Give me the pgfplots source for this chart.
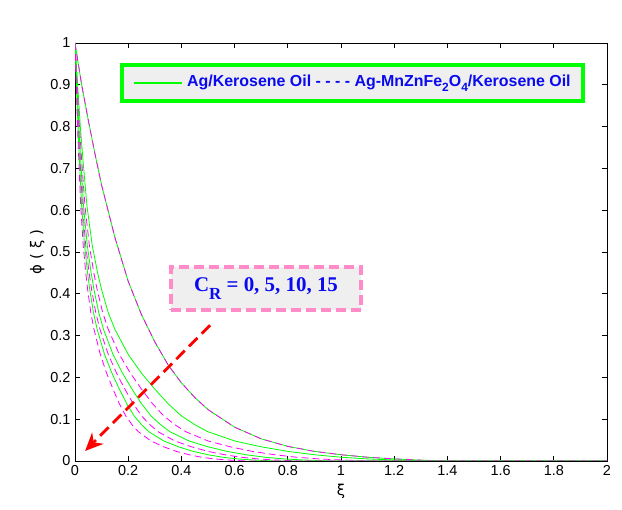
\documentclass[border=0pt]{standalone}
\usepackage{pgfplots}
\pgfplotsset{compat=1.18}
\usepackage{fontspec}
\setmainfont{Liberation Sans}
\newfontfamily\serifb{Liberation Serif}
\newfontfamily\dejavu{DejaVu Sans}
\usetikzlibrary{arrows.meta}
\definecolor{mgreen}{RGB}{0,255,0}
\definecolor{mmag}{RGB}{255,0,255}
\definecolor{pinkc}{RGB}{255,140,200}
\definecolor{boxfill}{RGB}{239,239,239}
\definecolor{txtblue}{RGB}{10,10,240}

\pgfplotstableread{
x y
0 1
0.025 0.9
0.05 0.815
0.075 0.735
0.1 0.66
0.15 0.535
0.2 0.43
0.25 0.35
0.3 0.285
0.35 0.23
0.4 0.187
0.45 0.152
0.5 0.123
0.6 0.081
0.7 0.053
0.8 0.035
0.9 0.023
1.0 0.015
1.1 0.009
1.2 0.005
1.3 0.002
1.4 0
2 0
}\cra

\pgfplotstableread{
x y
0 1
0.01 0.9
0.02 0.8
0.03 0.72
0.045 0.61
0.065 0.515
0.085 0.45
0.1 0.41
0.125 0.355
0.15 0.315
0.2 0.255
0.25 0.21
0.3 0.172
0.35 0.137
0.4 0.108
0.45 0.087
0.5 0.07
0.6 0.048
0.7 0.034
0.8 0.023
0.9 0.015
1.0 0.009
1.1 0.005
1.2 0.0025
1.35 0
2 0
}\grfive

\pgfplotstableread{
x y
0 1
0.0083 0.9
0.0167 0.8
0.025 0.72
0.0375 0.61
0.0542 0.515
0.0708 0.45
0.0833 0.41
0.1042 0.355
0.125 0.315
0.1667 0.255
0.2083 0.21
0.25 0.172
0.2917 0.137
0.3333 0.108
0.375 0.087
0.4167 0.07
0.5 0.048
0.5833 0.034
0.6667 0.023
0.75 0.015
0.8333 0.009
0.9167 0.005
1.0 0.0025
1.125 0
2 0
}\dafive

\pgfplotstableread{
x y
0 1
0.0071 0.9
0.0143 0.8
0.0214 0.72
0.0321 0.61
0.0464 0.515
0.0607 0.45
0.0714 0.41
0.0893 0.355
0.1071 0.315
0.1429 0.255
0.1786 0.21
0.2143 0.172
0.25 0.137
0.2857 0.108
0.3214 0.087
0.3571 0.07
0.4286 0.048
0.5 0.034
0.5714 0.023
0.6429 0.015
0.7143 0.009
0.7857 0.005
0.8571 0.0025
0.9643 0
2 0
}\grten

\pgfplotstableread{
x y
0 1
0.0063 0.9
0.0125 0.8
0.0188 0.72
0.0281 0.61
0.0406 0.515
0.0531 0.45
0.0625 0.41
0.0781 0.355
0.0938 0.315
0.125 0.255
0.1563 0.21
0.1875 0.172
0.2188 0.137
0.25 0.108
0.2813 0.087
0.3125 0.07
0.375 0.048
0.4375 0.034
0.5 0.023
0.5625 0.015
0.625 0.009
0.6875 0.005
0.75 0.0025
0.8438 0
2 0
}\daten

\pgfplotstableread{
x y
0 1
0.0056 0.9
0.0111 0.8
0.0167 0.72
0.025 0.61
0.0361 0.515
0.0472 0.45
0.0556 0.41
0.0694 0.355
0.0833 0.315
0.1111 0.255
0.1389 0.21
0.1667 0.172
0.1944 0.137
0.2222 0.108
0.25 0.087
0.2778 0.07
0.3333 0.048
0.3889 0.034
0.4444 0.023
0.5 0.015
0.5556 0.009
0.6111 0.005
0.6667 0.0025
0.75 0
2 0
}\grfifteen

\pgfplotstableread{
x y
0 1
0.0048 0.9
0.0095 0.8
0.0143 0.72
0.0214 0.61
0.031 0.515
0.0405 0.45
0.0476 0.41
0.0595 0.355
0.0714 0.315
0.0952 0.255
0.119 0.21
0.1429 0.172
0.1667 0.137
0.1905 0.108
0.2143 0.087
0.2381 0.07
0.2857 0.048
0.3333 0.034
0.381 0.023
0.4286 0.015
0.4762 0.009
0.5238 0.005
0.5714 0.0025
0.6429 0
2 0
}\dafifteen

\begin{document}
\begin{tikzpicture}
\path[use as bounding box] (-75bp,-49bp) rectangle (547bp,461bp);
\begin{axis}[
  at={(0,0)}, anchor=south west,
  scale only axis, width=532bp, height=418bp,
  xmin=0, xmax=2, ymin=0, ymax=1,
  xtick={0,0.2,0.4,0.6,0.8,1,1.2,1.4,1.6,1.8,2},
  xticklabels={0,0.2,0.4,0.6,0.8,1,1.2,1.4,1.6,1.8,2},
  ytick={0,0.1,0.2,0.3,0.4,0.5,0.6,0.7,0.8,0.9,1},
  yticklabels={0,0.1,0.2,0.3,0.4,0.5,0.6,0.7,0.8,0.9,1},
  tick align=inside, tick pos=both,
  major tick length=5bp,
  axis line style={black, line width=0.8bp},
  tick style={black, line width=0.8bp},
  ticklabel style={font=\fontsize{14.5}{16}\selectfont},
  xticklabel style={yshift=-1bp},
  yticklabel style={xshift=-1bp},
  label style={font=\dejavu\fontsize{15}{18}\selectfont},
  xlabel={ξ},
  ylabel={ϕ ( ξ )},
  xlabel style={yshift=-2bp},
  ylabel style={yshift=-1bp},
]
\addplot[mgreen, line width=0.8bp] table[x=x,y=y] {\cra};
\addplot[mmag, line width=0.8bp, dash pattern=on 7bp off 4bp] table[x=x,y=y] {\cra};
\addplot[mgreen, line width=0.8bp] table[x=x,y=y] {\grfive};
\addplot[mmag, line width=0.8bp, dash pattern=on 7bp off 4bp] table[x=x,y=y] {\dafive};
\addplot[mgreen, line width=0.8bp] table[x=x,y=y] {\grten};
\addplot[mmag, line width=0.8bp, dash pattern=on 7bp off 4bp] table[x=x,y=y] {\daten};
\addplot[mgreen, line width=0.8bp] table[x=x,y=y] {\grfifteen};
\addplot[mmag, line width=0.8bp, dash pattern=on 7bp off 4bp] table[x=x,y=y] {\dafifteen};

\node[draw=mgreen, line width=4bp, fill=boxfill, minimum width=461bp, minimum height=36bp, inner sep=0pt]
  at (axis cs:1.043,0.904)
  {\textcolor{mgreen}{\rule[0.3em]{48bp}{1.2bp}}\hspace{5bp}%
   \fontsize{16}{18}\selectfont\bfseries\color{txtblue}Ag/Kerosene Oil - - - - Ag-MnZnFe\raisebox{-0.3em}{\fontsize{12}{12}\selectfont 2}O\raisebox{-0.3em}{\fontsize{12}{12}\selectfont 4}/Kerosene Oil};

\node[draw=pinkc, line width=3.5bp, dash pattern=on 10bp off 5bp, fill=boxfill, minimum width=190bp, minimum height=43bp, inner sep=0pt]
  at (axis cs:0.718,0.4127)
  {\serifb\bfseries\color{txtblue}\fontsize{21}{22}\selectfont C\raisebox{-0.35em}{\fontsize{17}{17}\selectfont R} = 0, 5, 10, 15};

\draw[red, line width=2.8bp, dash pattern=on 12bp off 6bp, -{Stealth[length=18bp,width=16bp]}]
  (axis cs:0.508,0.325) -- (axis cs:0.038,0.024);
\end{axis}
\end{tikzpicture}
\end{document}
